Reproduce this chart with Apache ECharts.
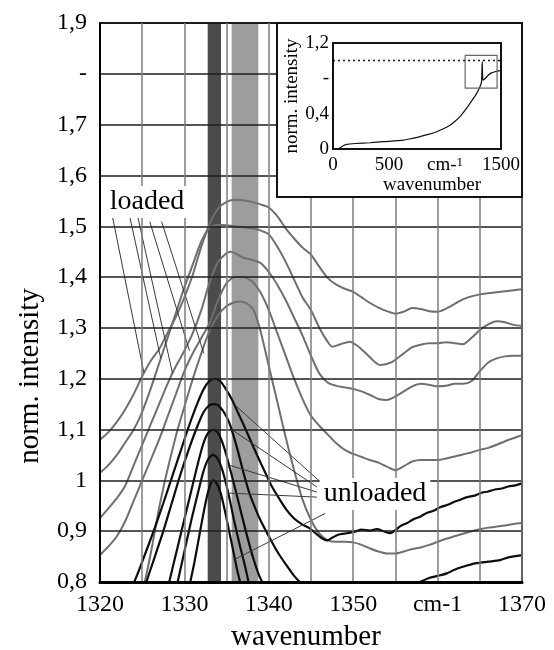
<!DOCTYPE html>
<html>
<head>
<meta charset="utf-8">
<script src="https://cdn.jsdelivr.net/npm/echarts@6/dist/echarts.min.js"></script>
<style>
  html, body { margin: 0; padding: 0; background: #fff; }
  #chart { width: 554px; height: 650px; }
</style>
</head>
<body>
<div id="chart"></div>
<script>
// ---- main panel: Raman line of diamond, loaded vs unloaded ----
const yTickLabels = ['0,8', '0,9', '1', '1,1', '1,2', '1,3', '1,4', '1,5', '1,6', '1,7', '-', '1,9'];
const xTickLabels = { 1320: '1320', 1330: '1330', 1340: '1340', 1350: '1350', 1360: 'cm-1', 1370: '1370' };

// highlighted wavenumber bands [from, to]
const darkBand = [1332.76, 1334.34];
const lightBand = [1335.6, 1338.76];

// loaded spectra [wavenumber, norm. intensity]
const loaded1 = [[1320,1.08],[1321,1.095],[1322,1.115],[1323,1.14],[1324,1.17],[1325,1.205],[1326,1.235],[1327,1.258],[1328,1.29],[1329,1.322],[1330,1.36],[1331,1.405],[1332,1.46],[1333,1.505],[1334,1.535],[1335,1.548],[1336,1.552],[1337,1.551],[1338,1.548],[1339,1.543],[1340,1.537],[1341,1.52],[1342,1.496],[1343,1.476],[1344,1.458],[1345,1.444],[1346,1.42],[1347,1.398],[1348,1.385],[1349,1.377],[1350,1.371],[1351,1.36],[1352,1.349],[1353,1.34],[1354,1.333],[1355,1.328],[1356,1.332],[1357,1.339],[1358,1.337],[1359,1.333],[1360,1.332],[1361,1.338],[1362,1.347],[1363,1.356],[1364,1.362],[1365,1.366],[1366,1.368],[1367,1.37],[1368,1.372],[1369,1.374],[1370,1.376]];
const loaded2 = [[1320,1.015],[1321,1.03],[1322,1.05],[1323,1.075],[1324,1.1],[1325,1.135],[1326,1.18],[1327,1.23],[1328,1.28],[1329,1.33],[1330,1.38],[1331,1.425],[1332,1.47],[1333,1.497],[1334,1.503],[1335,1.502],[1336,1.5],[1337,1.498],[1338,1.496],[1339,1.492],[1340,1.484],[1341,1.46],[1342,1.43],[1343,1.395],[1344,1.36],[1345,1.335],[1346,1.3],[1347,1.272],[1347.5,1.263],[1348.5,1.268],[1349.6,1.273],[1350.5,1.265],[1351.5,1.25],[1352.3,1.237],[1353.2,1.227],[1354.5,1.232],[1356,1.25],[1357,1.262],[1358,1.267],[1359,1.27],[1360,1.27],[1361,1.272],[1362,1.27],[1363,1.268],[1364,1.28],[1365,1.296],[1366,1.307],[1367,1.313],[1368,1.311],[1369,1.306],[1370,1.304]];
const loaded3 = [[1320,0.926],[1321,0.945],[1322,0.965],[1323,0.99],[1324,1.03],[1325,1.07],[1326,1.11],[1327,1.15],[1328,1.19],[1329,1.225],[1330,1.255],[1331,1.29],[1332,1.335],[1333,1.39],[1334,1.43],[1335,1.447],[1335.5,1.45],[1336,1.447],[1337,1.438],[1338,1.434],[1339,1.428],[1340,1.41],[1341,1.385],[1342,1.355],[1343,1.32],[1344,1.285],[1345,1.245],[1346,1.21],[1347,1.192],[1348,1.186],[1349,1.183],[1350,1.18],[1351,1.175],[1352,1.168],[1353,1.16],[1354,1.158],[1355,1.165],[1356,1.175],[1357,1.185],[1358,1.19],[1359,1.188],[1360,1.185],[1361,1.186],[1362,1.19],[1363,1.19],[1364,1.195],[1365,1.215],[1366,1.232],[1367,1.24],[1368,1.244],[1369,1.245],[1370,1.245]];
const loaded4 = [[1320,0.853],[1321,0.87],[1322,0.89],[1323,0.92],[1324,0.96],[1325,1.0],[1326,1.04],[1327,1.08],[1328,1.125],[1329,1.17],[1330,1.215],[1331,1.25],[1332,1.28],[1333,1.31],[1334,1.355],[1335,1.388],[1336,1.4],[1337,1.4],[1338,1.392],[1339,1.37],[1340,1.335],[1341,1.29],[1342,1.245],[1343,1.2],[1344,1.16],[1345,1.127],[1346,1.107],[1347,1.09],[1348,1.073],[1349,1.06],[1350,1.052],[1351,1.046],[1352,1.04],[1353,1.035],[1354,1.027],[1355,1.02],[1356,1.028],[1357,1.037],[1358,1.04],[1359,1.04],[1360,1.04],[1361,1.043],[1362,1.047],[1363,1.051],[1364,1.055],[1365,1.06],[1366,1.064],[1367,1.07],[1368,1.077],[1369,1.083],[1370,1.089]];
const loaded5 = [[1324.5,0.75],[1325.3,0.8],[1326,0.855],[1326.5,0.9],[1327,0.945],[1327.7,1.0],[1328.5,1.055],[1329.2,1.1],[1330,1.145],[1331,1.2],[1332,1.25],[1333,1.295],[1334,1.325],[1335,1.343],[1336,1.351],[1336.6,1.352],[1337.5,1.347],[1338.2,1.335],[1339,1.295],[1340,1.225],[1341,1.155],[1342,1.085],[1343,1.02],[1344,0.962],[1345,0.922],[1346,0.895],[1347,0.882],[1348,0.879],[1349,0.879],[1350,0.878],[1351,0.873],[1352,0.866],[1353,0.86],[1354,0.856],[1355,0.856],[1356,0.86],[1357,0.865],[1358,0.868],[1359,0.873],[1360,0.879],[1361,0.885],[1362,0.89],[1363,0.895],[1364,0.9],[1365,0.904],[1366,0.907],[1367,0.909],[1368,0.911],[1369,0.914],[1370,0.916]];

// unloaded spectra [wavenumber, norm. intensity]
const unloaded1 = [[1323.8,0.79],[1324.5,0.818],[1325.5,0.862],[1326.5,0.907],[1327.5,0.955],[1328.5,1.005],[1329.5,1.055],[1330.5,1.105],[1331.5,1.15],[1332.3,1.18],[1333,1.196],[1333.6,1.2],[1334.2,1.196],[1334.9,1.18],[1335.6,1.16],[1336.3,1.135],[1337,1.11],[1337.8,1.08],[1338.6,1.05],[1339.5,1.018],[1340.3,0.99],[1341.2,0.965],[1342.1,0.942],[1343,0.925],[1343.9,0.914],[1344.8,0.906],[1345.6,0.895],[1346.3,0.886],[1346.9,0.882],[1347.5,0.887],[1348.2,0.893],[1349.2,0.896],[1350.2,0.899],[1351,0.903],[1352,0.901],[1352.8,0.904],[1353.6,0.9],[1354.4,0.896],[1355,0.902],[1355.6,0.91],[1356.4,0.916],[1357.2,0.924],[1358,0.929],[1358.7,0.936],[1359.5,0.94],[1360.3,0.947],[1361.2,0.952],[1362,0.958],[1362.7,0.962],[1363.5,0.967],[1364.4,0.97],[1365.3,0.976],[1366,0.978],[1366.8,0.982],[1367.6,0.984],[1368.4,0.988],[1369.2,0.99],[1370,0.994]];
const unloaded2 = [[1325,0.77],[1325.5,0.8],[1326.5,0.85],[1327.5,0.9],[1328.5,0.955],[1329.5,1.01],[1330.5,1.06],[1331.5,1.105],[1332.3,1.135],[1333,1.148],[1333.6,1.15],[1334.2,1.145],[1335,1.125],[1335.6,1.1],[1336.3,1.06],[1337,1.015],[1337.7,0.975],[1338.4,0.945],[1339,0.922],[1340,0.89],[1341,0.86],[1342,0.835],[1343,0.812],[1343.7,0.8],[1345,0.785],[1348,0.77],[1352,0.765],[1355,0.775],[1357.9,0.8],[1359,0.808],[1360,0.812],[1361.1,0.817],[1362,0.824],[1363,0.83],[1364.6,0.837],[1366,0.84],[1367.4,0.843],[1368.5,0.849],[1370,0.853]];
const unloaded3 = [[1327.8,0.77],[1328.2,0.8],[1329,0.855],[1329.8,0.91],[1330.6,0.965],[1331.4,1.02],[1332.2,1.07],[1332.8,1.093],[1333.4,1.1],[1334,1.093],[1334.7,1.065],[1335.5,1.017],[1336.3,0.965],[1337.2,0.905],[1338.1,0.85],[1338.8,0.815],[1339.2,0.8],[1339.6,0.78]];
const unloaded4 = [[1328.8,0.77],[1329.2,0.8],[1330,0.86],[1330.8,0.92],[1331.6,0.975],[1332.3,1.02],[1332.9,1.044],[1333.4,1.05],[1333.9,1.044],[1334.5,1.02],[1335.2,0.975],[1335.9,0.92],[1336.6,0.87],[1337.2,0.83],[1337.6,0.8],[1338,0.77]];
const unloaded5 = [[1330.3,0.77],[1330.7,0.8],[1331.2,0.84],[1331.7,0.885],[1332.2,0.93],[1332.7,0.97],[1333.1,0.993],[1333.4,1.0],[1333.8,0.995],[1334.3,0.975],[1334.8,0.94],[1335.3,0.9],[1335.8,0.86],[1336.3,0.82],[1336.6,0.8],[1337,0.77]];

// annotation leaders: [label end, curve end]
const loadedLeaders = [
  [[1321.5,1.517],[1325.2,1.212]],
  [[1323.55,1.517],[1327.2,1.24]],
  [[1324.5,1.517],[1328.6,1.21]],
  [[1325.9,1.509],[1330.6,1.255]],
  [[1327.3,1.509],[1332.3,1.25]]
];
const unloadedLeaders = [
  [[1345.9,1.0],[1336.0,1.148]],
  [[1345.7,0.987],[1335.6,1.1]],
  [[1345.7,0.977],[1335.3,1.03]],
  [[1345.7,0.967],[1335.2,0.975]],
  [[1346.7,0.935],[1336.0,0.845]]
];

// ---- inset: full spectrum ----
const insetYLabels = ['0', '0,4', '-', '1,2'];
const insetSpectrum = [[30,0],[47,0.0],[62,0.012],[78,0.026],[100,0.042],[122,0.053],[200,0.062],[330,0.071],[450,0.083],[628,0.1],[700,0.118],[777,0.14],[850,0.165],[926,0.196],[990,0.232],[1045,0.27],[1090,0.315],[1134,0.366],[1180,0.44],[1223,0.517],[1255,0.575],[1283,0.63],[1305,0.685],[1318,0.725],[1326,0.76],[1331,0.93],[1333,0.99],[1335,0.85],[1338,0.79],[1342,0.78],[1360,0.8],[1387,0.838],[1415,0.862],[1446,0.875],[1470,0.882],[1500,0.888]];
const insetRefLevel = 1.0;
const insetZoomBox = [[1180, 1.06], [1465, 0.69]];

const FONT = "'Liberation Serif', 'DejaVu Serif', serif";
const GREY = '#6f6f6f';
const BLACK = '#0d0d0d';

const chart = echarts.init(document.getElementById('chart'), null, { renderer: 'canvas' });

function curve(name, data, color, width) {
  return {
    name, type: 'line', data, xAxisIndex: 0, yAxisIndex: 0,
    showSymbol: false, smooth: 0.25, silent: true, clip: true, z: 3,
    lineStyle: { color, width }
  };
}
function leader(data) {
  return {
    type: 'line', data, xAxisIndex: 0, yAxisIndex: 0,
    showSymbol: false, silent: true, clip: true, z: 4,
    lineStyle: { color: '#3a3a3a', width: 1 }
  };
}

const series = [
  {
    name: 'bands', type: 'line', data: [], xAxisIndex: 0, yAxisIndex: 0, z: 1, silent: true,
    markArea: {
      silent: true, z: 1,
      data: [
        [{ xAxis: darkBand[0], itemStyle: { color: '#4b4b4b', opacity: 1 } }, { xAxis: darkBand[1] }],
        [{ xAxis: lightBand[0], itemStyle: { color: '#9d9d9d', opacity: 1 } }, { xAxis: lightBand[1] }]
      ]
    }
  },
  curve('loaded 1', loaded1, GREY, 2),
  curve('loaded 2', loaded2, GREY, 2),
  curve('loaded 3', loaded3, GREY, 2),
  curve('loaded 4', loaded4, GREY, 2),
  curve('loaded 5', loaded5, GREY, 2),
  ...loadedLeaders.map(leader),
  ...unloadedLeaders.map(leader),
  curve('unloaded 1', unloaded1, BLACK, 2.2),
  curve('unloaded 2', unloaded2, BLACK, 2.2),
  curve('unloaded 3', unloaded3, BLACK, 2.2),
  curve('unloaded 4', unloaded4, BLACK, 2.2),
  curve('unloaded 5', unloaded5, BLACK, 2.2),
  // inset
  {
    name: 'spectrum', type: 'line', data: insetSpectrum, xAxisIndex: 1, yAxisIndex: 1,
    showSymbol: false, smooth: 0.2, silent: true, z: 22,
    lineStyle: { color: '#111', width: 1.2 },
    markLine: {
      silent: true, symbol: 'none', z: 23, label: { show: false },
      lineStyle: { color: '#111', type: [2, 3], width: 1.4 },
      data: [{ yAxis: insetRefLevel }]
    },
    markArea: {
      silent: true, z: 23,
      itemStyle: { color: 'rgba(0,0,0,0)', borderColor: '#666', borderWidth: 1.2 },
      data: [[{ coord: insetZoomBox[0] }, { coord: insetZoomBox[1] }]]
    }
  }
];

chart.setOption({
  animation: false,
  backgroundColor: '#fff',
  textStyle: { fontFamily: FONT },
  grid: [
    { left: 100, top: 23, width: 422, height: 559, show: true, borderColor: '#1a1a1a', borderWidth: 2, z: 5, backgroundColor: 'transparent' },
    { left: 333, top: 43, width: 168, height: 106, show: true, borderColor: '#111', borderWidth: 2, z: 21, backgroundColor: 'transparent' }
  ],
  xAxis: [
    {
      type: 'value', gridIndex: 0, min: 1320, max: 1370, interval: 5, z: 6,
      axisLine: { show: true, onZero: false, lineStyle: { color: '#000', width: 3 } },
      axisTick: { show: false },
      axisLabel: {
        margin: 11, color: '#000', fontSize: 24, fontFamily: FONT,
        formatter: v => xTickLabels[Math.round(v)] || ''
      },
      splitLine: { show: true, lineStyle: { color: '#7c7c7c', width: 1.5 } }
    },
    {
      type: 'value', gridIndex: 1, min: 0, max: 1500, interval: 500, z: 22,
      axisLine: { show: false }, axisTick: { show: false }, splitLine: { show: false },
      axisLabel: {
        margin: 7, color: '#000', fontSize: 19, fontFamily: FONT,
        formatter: v => v === 1000 ? '{a|cm-}{b|1}' : String(v),
        rich: { a: { fontSize: 19, fontFamily: FONT, color: '#000' }, b: { fontSize: 13, fontFamily: FONT, color: '#000', verticalAlign: 'top', padding: [0, 0, 6, 0] } }
      },
      name: 'wavenumber', nameLocation: 'middle', nameGap: 25,
      nameTextStyle: { fontSize: 19, fontFamily: FONT, color: '#000', padding: [0, 0, 0, 30] }
    }
  ],
  yAxis: [
    {
      type: 'value', gridIndex: 0, min: 0.8, max: 1.9, interval: 0.1, z: 6,
      axisLine: { show: true, onZero: false, lineStyle: { color: '#000', width: 2 } },
      axisTick: { show: false },
      axisLabel: {
        margin: 13, color: '#000', fontSize: 24, fontFamily: FONT,
        formatter: v => yTickLabels[Math.round(v * 10) - 8] ?? ''
      },
      splitLine: { show: true, lineStyle: { color: '#1e1e1e', width: 1.5 } }
    },
    {
      type: 'value', gridIndex: 1, min: 0, max: 1.2, interval: 0.4, z: 22,
      axisLine: { show: false }, axisTick: { show: false }, splitLine: { show: false },
      axisLabel: {
        margin: 4, color: '#000', fontSize: 19, fontFamily: FONT,
        formatter: v => insetYLabels[Math.round(v / 0.4)] ?? ''
      },
      name: 'norm. intensity', nameLocation: 'middle', nameGap: 30,
      nameTextStyle: { fontSize: 19, fontFamily: FONT, color: '#000' }
    }
  ],
  graphic: [
    {
      type: 'rect', z: 20, silent: true,
      shape: { x: 277, y: 23, width: 245, height: 174 },
      style: { fill: '#fff', stroke: '#111', lineWidth: 2 }
    },
    {
      type: 'text', z: 8, silent: true, x: 147, y: 202,
      style: { text: 'loaded', font: "28px 'Liberation Serif', serif", fill: '#000', align: 'center', verticalAlign: 'middle', backgroundColor: '#fff', padding: [2, 4, 2, 4] }
    },
    {
      type: 'text', z: 8, silent: true, x: 375, y: 494,
      style: { text: 'unloaded', font: "28px 'Liberation Serif', serif", fill: '#000', align: 'center', verticalAlign: 'middle', backgroundColor: '#fff', padding: [2, 4, 2, 4] }
    },
    {
      type: 'text', silent: true, x: 30, y: 376, rotation: Math.PI / 2,
      style: { text: 'norm. intensity', font: "29px 'Liberation Serif', serif", fill: '#000', align: 'center', verticalAlign: 'middle' }
    },
    {
      type: 'text', silent: true, x: 306, y: 637,
      style: { text: 'wavenumber', font: "29px 'Liberation Serif', serif", fill: '#000', align: 'center', verticalAlign: 'middle' }
    }
  ],
  series
});
</script>
</body>
</html>
